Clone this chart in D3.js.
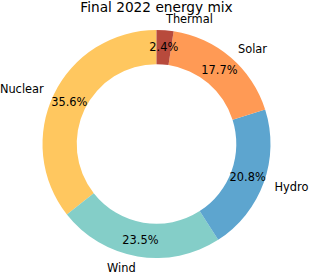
<!DOCTYPE html>
<html>
<head>
<meta charset="utf-8">
<script src="https://cdn.jsdelivr.net/npm/d3@7"></script>
<style>
  html, body { margin: 0; padding: 0; background: #fff; }
  svg { display: block; }
</style>
</head>
<body>
<main></main>
<script>
let svgWidth  = 310;
let svgHeight = 274;

// wedges go counterclockwise from the top, like the original
const sources = ['Nuclear', 'Wind', 'Hydro', 'Solar', 'Thermal'];
const shares  = [35.6, 23.5, 20.8, 17.7, 2.4];
const colors  = ['#FFC75F', '#84CEC8', '#5DA5CF', '#FF9A55', '#B84A3C'];

const title = 'Final 2022 energy mix';

let cx = 156.5;
let cy = 144;
let outerR = 114;
let innerR = outerR * 0.7;

var svg;

function polar(r, a) {
  // d3 angles: clockwise from 12 o'clock
  return [cx + r * Math.sin(a), cy - r * Math.cos(a)];
}

document.addEventListener("DOMContentLoaded", function() {
  let data = sources.map(function(s, i) {
    return { name: s, value: shares[i], color: colors[i] };
  });

  svg = d3
    .select("body main")
    .append('svg')
    .attr('width', svgWidth)
    .attr('height', svgHeight)
  ;

  svg.append('text')
    .attr('x', cx)
    .attr('y', 12)
    .attr('text-anchor', 'middle')
    .attr('font-family', 'DejaVu Sans')
    .attr('font-size', '13.7px')
    .attr('fill', '#000')
    .text(title)
  ;

  let pie = d3.pie()
    .sort(null)
    .value(function(d) { return d.value; })
    .startAngle(0)
    .endAngle(-2 * Math.PI)
  ;

  let arc = d3.arc()
    .innerRadius(innerR)
    .outerRadius(outerR)
  ;

  let slices = pie(data);

  svg.append('g')
    .attr('transform', 'translate(' + cx + ',' + cy + ')')
    .selectAll('path')
    .data(slices)
    .enter()
      .append('path')
      .attr('d', arc)
      .attr('fill', function(d) { return d.data.color; })
  ;

  // percent labels at 0.85 of the radius
  svg.append('g')
    .selectAll('text')
    .data(slices)
    .enter()
      .append('text')
      .attr('x', function(d) { return polar(outerR * 0.85, (d.startAngle + d.endAngle) / 2)[0]; })
      .attr('y', function(d) { return polar(outerR * 0.85, (d.startAngle + d.endAngle) / 2)[1]; })
      .attr('dy', '0.36em')
      .attr('text-anchor', 'middle')
      .attr('font-family', 'DejaVu Sans')
      .attr('font-size', '11.4px')
      .attr('fill', '#000')
      .text(function(d) { return d.data.value.toFixed(1) + '%'; })
  ;

  // category labels at 1.1 of the radius
  svg.append('g')
    .selectAll('text')
    .data(slices)
    .enter()
      .append('text')
      .attr('x', function(d) { return polar(outerR * 1.1, (d.startAngle + d.endAngle) / 2)[0]; })
      .attr('y', function(d) { return polar(outerR * 1.1, (d.startAngle + d.endAngle) / 2)[1]; })
      .attr('dy', '0.36em')
      .attr('text-anchor', function(d) {
        return Math.sin((d.startAngle + d.endAngle) / 2) > 0 ? 'start' : 'end';
      })
      .attr('font-family', 'DejaVu Sans')
      .attr('font-size', '11.4px')
      .attr('fill', '#000')
      .text(function(d) { return d.data.name; })
  ;
});
</script>
</body>
</html>
